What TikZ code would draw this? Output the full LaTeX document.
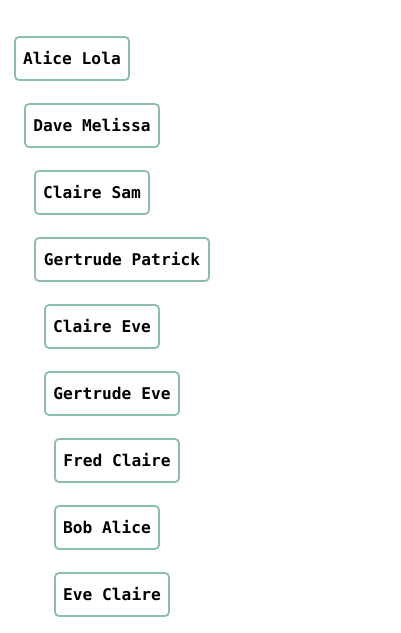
\documentclass[tikz,border=0pt]{standalone}
\usepackage{fontspec}
\setmonofont{DejaVu Sans Mono}
\begin{document}
\begin{tikzpicture}[x=1pt,y=-1pt,
  namebox/.style={draw=boxgreen, line width=1.8pt, rounded corners=4pt, fill=white,
    inner sep=0pt, minimum height=43pt, font=\ttfamily\bfseries\fontsize{16.2}{18}\selectfont}]
\definecolor{boxgreen}{HTML}{8BC0A8}
\useasboundingbox (0,0) rectangle (400,633);
\node[namebox, minimum width=114pt] (n1) at (72,58.5) {Alice Lola};
\node[namebox, minimum width=134pt] (n2) at (92,125.5) {Dave Melissa};
\node[namebox, minimum width=114pt] (n3) at (92,192.5) {Claire Sam};
\node[namebox, minimum width=174pt] (n4) at (122,259.5) {Gertrude Patrick};
\node[namebox, minimum width=114pt] (n5) at (102,326.5) {Claire Eve};
\node[namebox, minimum width=134pt] (n6) at (112,393.5) {Gertrude Eve};
\node[namebox, minimum width=124pt] (n7) at (117,460.5) {Fred Claire};
\node[namebox, minimum width=104pt] (n8) at (107,527.5) {Bob Alice};
\node[namebox, minimum width=114pt] (n9) at (112,594.5) {Eve Claire};
\end{tikzpicture}
\end{document}
